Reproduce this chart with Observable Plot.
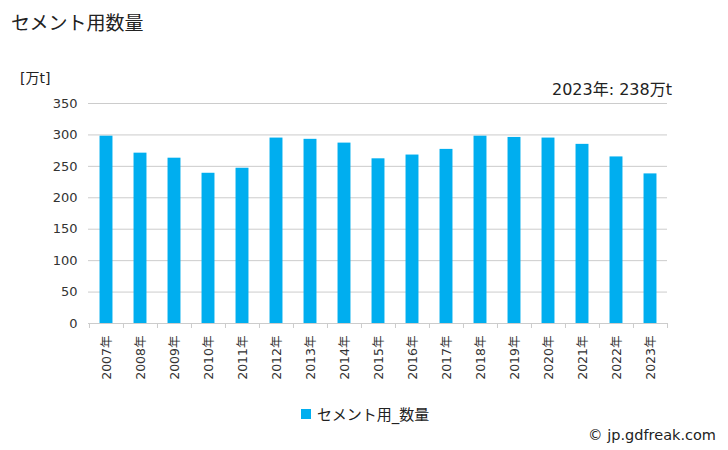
<!DOCTYPE html>
<html>
<head>
<meta charset="utf-8">
<script src="https://cdn.jsdelivr.net/npm/d3@7"></script>
<script src="https://cdn.jsdelivr.net/npm/@observablehq/plot@0.6"></script>
<style>
  body { margin: 0; background: #fff; font-family: "DejaVu Sans", "Noto Sans CJK JP", sans-serif; color: #222; }
  #wrap { position: relative; width: 728px; height: 450px; overflow: hidden; }
  .abs { position: absolute; white-space: nowrap; }
  #title { left: 11px; top: 8px; font-size: 19px; }
  #unit { left: 20px; top: 67px; font-size: 14px; }
  #note { right: 56px; top: 76px; font-size: 16px; }
  #chart { position: absolute; left: 0; top: 60px; }
  #legend { left: 301px; top: 403px; font-size: 15px; display: flex; align-items: center; }
  #legend .sw { width: 10px; height: 10px; background: #00aeef; margin-right: 6px; }
  #caption { right: 12px; top: 427px; font-size: 14.5px; }
</style>
</head>
<body>
<div id="wrap">
  <div class="abs" id="title">セメント用数量</div>
  <div class="abs" id="unit">[万t]</div>
  <div class="abs" id="note">2023年: 238万t</div>
  <div id="chart"></div>
  <div class="abs" id="legend"><span class="sw"></span><span>セメント用_数量</span></div>
  <div class="abs" id="caption">© jp.gdfreak.com</div>
</div>
<script>
const years = ["2007年","2008年","2009年","2010年","2011年","2012年","2013年","2014年","2015年","2016年","2017年","2018年","2019年","2020年","2021年","2022年","2023年"];
const values = [298, 271, 263, 239, 247, 295, 293, 287, 262, 268, 277, 298, 296, 295, 285, 265, 238];
const yTicks = [0, 50, 100, 150, 200, 250, 300, 350];

const data = years.map((y, i) => ({year: y, value: values[i]}));

const W = 728, ML = 88, MR = 61;
const bw = (W - ML - MR) / years.length;

const plot = Plot.plot({
  width: W,
  height: 330,
  marginLeft: ML,
  marginRight: MR,
  marginTop: 43,
  marginBottom: 67,
  style: {fontFamily: '"DejaVu Sans", "Noto Sans CJK JP", sans-serif', color: "#333", background: "transparent"},
  x: {domain: years, padding: 0, label: null},
  y: {domain: [0, 350], label: null},
  marks: [
    Plot.ruleY(yTicks.filter(d => d > 0), {stroke: "#ccc", strokeWidth: 1}),
    Plot.barY(data, {x: "year", y: "value", fill: "#00aeef", insetLeft: (bw - 13) / 2, insetRight: (bw - 13) / 2}),
    Plot.ruleY([0], {stroke: "#ccc", strokeWidth: 1}),
    Plot.ruleX(years, {x: d => d, dx: -bw / 2, y1: 0, y2: -8, stroke: "#ccc"}),
    Plot.ruleX([years[years.length - 1]], {x: d => d, dx: bw / 2, y1: 0, y2: -8, stroke: "#ccc"}),
    Plot.axisY({ticks: yTicks, tickSize: 0, tickPadding: 11, fontSize: 13, tickFormat: d => String(d)}),
    Plot.axisX({tickSize: 0, tickRotate: -90, tickPadding: 12, fontSize: 12.5})
  ]
});
document.getElementById("chart").appendChild(plot);
</script>
</body>
</html>
